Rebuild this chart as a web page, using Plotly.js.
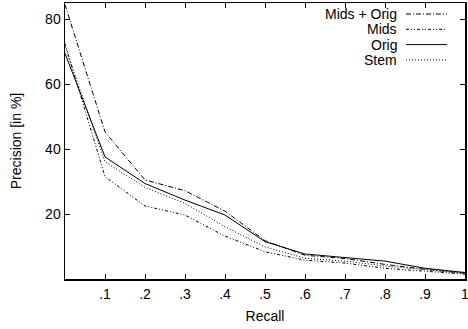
<!DOCTYPE html>
<html>
<head>
<meta charset="utf-8">
<script src="https://cdn.plot.ly/plotly-3.0.1.min.js"></script>
<style>html,body{margin:0;padding:0;background:#fff;}#chart{width:468px;height:329px;}</style>
</head>
<body>
<div id="chart"></div>
<script>
var recall = [0, 0.1, 0.2, 0.3, 0.4, 0.5, 0.6, 0.7, 0.8, 0.9, 1.0];
var midsOrig = [84.5, 45.3, 30.5, 27.2, 20.9, 11.8, 7.3, 6.3, 4.5, 3.0, 1.8];
var mids     = [72.5, 31.5, 22.5, 19.7, 13.2, 8.4, 5.8, 4.9, 3.3, 2.5, 1.5];
var orig     = [69.5, 37.6, 29.4, 24.3, 19.7, 11.5, 7.7, 6.7, 5.5, 3.3, 2.0];
var stem     = [71.5, 36.1, 28.2, 23.3, 16.1, 9.9, 6.4, 5.5, 4.0, 2.8, 1.7];
var seriesNames = ['Mids + Orig', 'Mids', 'Orig', 'Stem'];
var xTickVals = [0.1, 0.2, 0.3, 0.4, 0.5, 0.6, 0.7, 0.8, 0.9, 1.0];
var xTickText = ['.1', '.2', '.3', '.4', '.5', '.6', '.7', '.8', '.9', '1'];
var yTickVals = [20, 40, 60, 80];

var dashes = ['5px,2px,1px,2px', '3px,2px,1px,2px,1px,2px', 'solid', '1px,2px'];
var values = [midsOrig, mids, orig, stem];
var traces = values.map(function (v, i) {
  return {x: recall, y: v, name: seriesNames[i], mode: 'lines', type: 'scatter',
    line: {color: '#000', width: 1, dash: dashes[i]}, showlegend: false};
});

// gnuplot-style legend: text right-aligned, sample line to the right
var annotations = [], shapes = [];
var legTop = 14, legStep = 15.3;
seriesNames.forEach(function (n, i) {
  var yp = legTop + i * legStep; // pixel from top
  var yPaper = 1 - (yp - 3) / 276;
  annotations.push({xref: 'paper', yref: 'paper', x: (399 - 65) / 400, y: yPaper,
    text: n, showarrow: false, xanchor: 'right', yanchor: 'middle',
    font: {family: 'Liberation Sans, Arial, sans-serif', size: 14, color: '#000'}});
  shapes.push({type: 'line', xref: 'paper', yref: 'paper',
    x0: (406 - 65) / 400, x1: (447 - 65) / 400, y0: yPaper, y1: yPaper,
    line: {color: '#000', width: 1, dash: dashes[i]}});
});

var layout = {
  width: 468, height: 329,
  margin: {l: 65, r: 3, t: 3, b: 50},
  paper_bgcolor: '#fff', plot_bgcolor: '#fff',
  font: {family: 'Liberation Sans, Arial, sans-serif', size: 14, color: '#000'},
  xaxis: {range: [0, 1], tickvals: xTickVals, ticktext: xTickText, ticks: 'inside',
    ticklen: 5, tickcolor: '#000', showgrid: false, zeroline: false, showline: true,
    linecolor: '#000', linewidth: 1.5, mirror: 'ticks', ticklabeloverflow: 'allow',
    ticklabelstandoff: 2,
    title: {text: 'Recall', standoff: 10, font: {size: 14}}},
  yaxis: {range: [0, 85], tickvals: yTickVals, ticks: 'inside', ticklen: 5,
    tickcolor: '#000', showgrid: false, zeroline: false, showline: true,
    linecolor: '#000', linewidth: 1.5, mirror: 'ticks',
    title: {text: 'Precision [in %]', standoff: 20, font: {size: 14}}},
  annotations: annotations, shapes: shapes, showlegend: false
};
Plotly.newPlot('chart', traces, layout, {displayModeBar: false, staticPlot: true});
</script>
</body>
</html>
